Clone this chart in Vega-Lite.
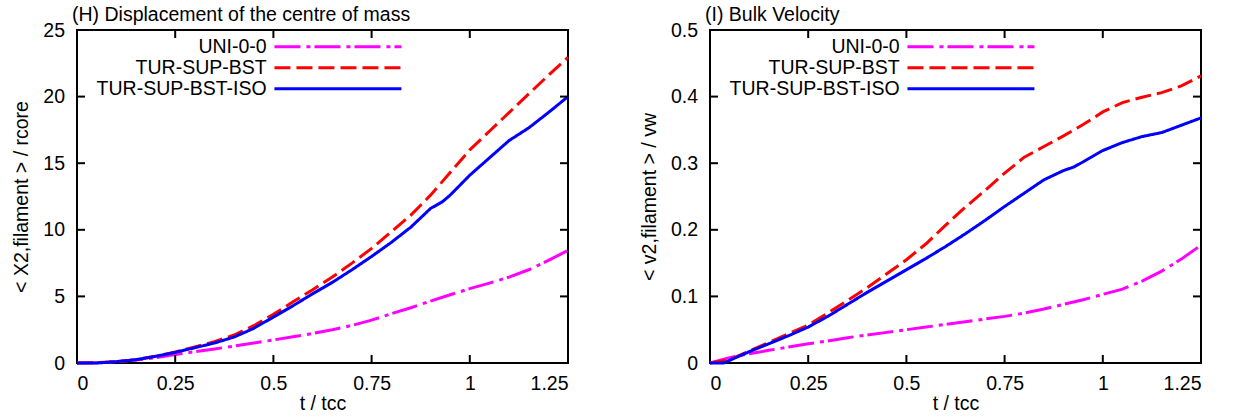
{
  "$schema": "https://vega.github.io/schema/vega-lite/v6.json",
  "background": "white",
  "padding": {"left": 10, "top": 3, "right": 10, "bottom": 0},
  "config": {
    "font": "Liberation Sans",
    "view": {"stroke": "black", "strokeWidth": 2},
    "axis": {"domain": false, "ticks": false, "grid": false, "labelFontSize": 19.5, "labelColor": "black", "titleFontSize": 19.5, "titleFontWeight": "normal", "titleColor": "black", "labelFont": "Liberation Sans", "titleFont": "Liberation Sans"},
    "axisX": {"labelPadding": 11, "titlePadding": 2},
    "axisY": {"labelPadding": 12.5, "titlePadding": 11},
    "title": {"fontSize": 19.5, "fontWeight": "normal", "anchor": "start", "frame": "group", "font": "Liberation Sans", "offset": -5, "dx": -5, "color": "black"},
    "legend": {"orient": "none", "legendX": 251.2, "legendY": 7, "symbolType": "M-12,0H12", "symbolSize": 112, "symbolStrokeWidth": 3, "labelFontSize": 19.5, "labelFont": "Liberation Sans", "labelColor": "black", "labelAlign": "right", "labelOffset": -81, "labelLimit": 400, "title": null, "rowPadding": 0}
  },
  "datasets": {
    "xt": [{"t": 0.25}, {"t": 0.5}, {"t": 0.75}, {"t": 1}],
    "yth": [{"v": 5}, {"v": 10}, {"v": 15}, {"v": 20}],
    "yti": [{"v": 0.1}, {"v": 0.2}, {"v": 0.3}, {"v": 0.4}],
    "h": [
      {"t": 0, "v": 0, "s": "UNI-0-0"}, {"t": 0.05, "v": 0.02, "s": "UNI-0-0"}, {"t": 0.1, "v": 0.1, "s": "UNI-0-0"}, {"t": 0.15, "v": 0.22, "s": "UNI-0-0"}, {"t": 0.2, "v": 0.4, "s": "UNI-0-0"}, {"t": 0.25, "v": 0.63, "s": "UNI-0-0"}, {"t": 0.3, "v": 0.85, "s": "UNI-0-0"}, {"t": 0.35, "v": 1.05, "s": "UNI-0-0"}, {"t": 0.4, "v": 1.27, "s": "UNI-0-0"}, {"t": 0.45, "v": 1.5, "s": "UNI-0-0"}, {"t": 0.5, "v": 1.73, "s": "UNI-0-0"}, {"t": 0.55, "v": 1.97, "s": "UNI-0-0"}, {"t": 0.6, "v": 2.22, "s": "UNI-0-0"}, {"t": 0.65, "v": 2.5, "s": "UNI-0-0"}, {"t": 0.7, "v": 2.82, "s": "UNI-0-0"}, {"t": 0.75, "v": 3.22, "s": "UNI-0-0"}, {"t": 0.8, "v": 3.7, "s": "UNI-0-0"}, {"t": 0.85, "v": 4.15, "s": "UNI-0-0"}, {"t": 0.9, "v": 4.65, "s": "UNI-0-0"}, {"t": 0.95, "v": 5.12, "s": "UNI-0-0"}, {"t": 1.0, "v": 5.58, "s": "UNI-0-0"}, {"t": 1.05, "v": 6.0, "s": "UNI-0-0"}, {"t": 1.1, "v": 6.45, "s": "UNI-0-0"}, {"t": 1.15, "v": 7.0, "s": "UNI-0-0"}, {"t": 1.2, "v": 7.7, "s": "UNI-0-0"}, {"t": 1.25, "v": 8.45, "s": "UNI-0-0"},
      {"t": 0, "v": 0, "s": "TUR-SUP-BST"}, {"t": 0.05, "v": 0.02, "s": "TUR-SUP-BST"}, {"t": 0.1, "v": 0.1, "s": "TUR-SUP-BST"}, {"t": 0.15, "v": 0.25, "s": "TUR-SUP-BST"}, {"t": 0.2, "v": 0.5, "s": "TUR-SUP-BST"}, {"t": 0.25, "v": 0.83, "s": "TUR-SUP-BST"}, {"t": 0.3, "v": 1.2, "s": "TUR-SUP-BST"}, {"t": 0.35, "v": 1.6, "s": "TUR-SUP-BST"}, {"t": 0.4, "v": 2.1, "s": "TUR-SUP-BST"}, {"t": 0.45, "v": 2.8, "s": "TUR-SUP-BST"}, {"t": 0.5, "v": 3.65, "s": "TUR-SUP-BST"}, {"t": 0.55, "v": 4.6, "s": "TUR-SUP-BST"}, {"t": 0.6, "v": 5.5, "s": "TUR-SUP-BST"}, {"t": 0.65, "v": 6.45, "s": "TUR-SUP-BST"}, {"t": 0.7, "v": 7.5, "s": "TUR-SUP-BST"}, {"t": 0.75, "v": 8.6, "s": "TUR-SUP-BST"}, {"t": 0.8, "v": 9.85, "s": "TUR-SUP-BST"}, {"t": 0.85, "v": 11.1, "s": "TUR-SUP-BST"}, {"t": 0.9, "v": 12.6, "s": "TUR-SUP-BST"}, {"t": 0.95, "v": 14.3, "s": "TUR-SUP-BST"}, {"t": 1.0, "v": 16.0, "s": "TUR-SUP-BST"}, {"t": 1.05, "v": 17.4, "s": "TUR-SUP-BST"}, {"t": 1.1, "v": 18.8, "s": "TUR-SUP-BST"}, {"t": 1.15, "v": 20.2, "s": "TUR-SUP-BST"}, {"t": 1.2, "v": 21.6, "s": "TUR-SUP-BST"}, {"t": 1.25, "v": 22.95, "s": "TUR-SUP-BST"},
      {"t": 0, "v": 0, "s": "TUR-SUP-BST-ISO"}, {"t": 0.05, "v": 0.0, "s": "TUR-SUP-BST-ISO"}, {"t": 0.1, "v": 0.1, "s": "TUR-SUP-BST-ISO"}, {"t": 0.15, "v": 0.25, "s": "TUR-SUP-BST-ISO"}, {"t": 0.2, "v": 0.5, "s": "TUR-SUP-BST-ISO"}, {"t": 0.25, "v": 0.8, "s": "TUR-SUP-BST-ISO"}, {"t": 0.3, "v": 1.15, "s": "TUR-SUP-BST-ISO"}, {"t": 0.35, "v": 1.5, "s": "TUR-SUP-BST-ISO"}, {"t": 0.4, "v": 1.95, "s": "TUR-SUP-BST-ISO"}, {"t": 0.45, "v": 2.6, "s": "TUR-SUP-BST-ISO"}, {"t": 0.5, "v": 3.45, "s": "TUR-SUP-BST-ISO"}, {"t": 0.55, "v": 4.3, "s": "TUR-SUP-BST-ISO"}, {"t": 0.6, "v": 5.2, "s": "TUR-SUP-BST-ISO"}, {"t": 0.65, "v": 6.05, "s": "TUR-SUP-BST-ISO"}, {"t": 0.7, "v": 7.0, "s": "TUR-SUP-BST-ISO"}, {"t": 0.75, "v": 8.0, "s": "TUR-SUP-BST-ISO"}, {"t": 0.8, "v": 9.05, "s": "TUR-SUP-BST-ISO"}, {"t": 0.85, "v": 10.2, "s": "TUR-SUP-BST-ISO"}, {"t": 0.9, "v": 11.6, "s": "TUR-SUP-BST-ISO"}, {"t": 0.93, "v": 12.1, "s": "TUR-SUP-BST-ISO"}, {"t": 0.95, "v": 12.6, "s": "TUR-SUP-BST-ISO"}, {"t": 1.0, "v": 14.1, "s": "TUR-SUP-BST-ISO"}, {"t": 1.05, "v": 15.4, "s": "TUR-SUP-BST-ISO"}, {"t": 1.1, "v": 16.7, "s": "TUR-SUP-BST-ISO"}, {"t": 1.15, "v": 17.65, "s": "TUR-SUP-BST-ISO"}, {"t": 1.2, "v": 18.8, "s": "TUR-SUP-BST-ISO"}, {"t": 1.25, "v": 20.0, "s": "TUR-SUP-BST-ISO"}
    ],
    "i": [
      {"t": 0, "v": 0, "s": "UNI-0-0"}, {"t": 0.05, "v": 0.008, "s": "UNI-0-0"}, {"t": 0.1, "v": 0.014, "s": "UNI-0-0"}, {"t": 0.15, "v": 0.019, "s": "UNI-0-0"}, {"t": 0.2, "v": 0.024, "s": "UNI-0-0"}, {"t": 0.25, "v": 0.029, "s": "UNI-0-0"}, {"t": 0.3, "v": 0.033, "s": "UNI-0-0"}, {"t": 0.35, "v": 0.038, "s": "UNI-0-0"}, {"t": 0.4, "v": 0.042, "s": "UNI-0-0"}, {"t": 0.45, "v": 0.046, "s": "UNI-0-0"}, {"t": 0.5, "v": 0.05, "s": "UNI-0-0"}, {"t": 0.55, "v": 0.054, "s": "UNI-0-0"}, {"t": 0.6, "v": 0.058, "s": "UNI-0-0"}, {"t": 0.65, "v": 0.062, "s": "UNI-0-0"}, {"t": 0.7, "v": 0.066, "s": "UNI-0-0"}, {"t": 0.75, "v": 0.07, "s": "UNI-0-0"}, {"t": 0.8, "v": 0.075, "s": "UNI-0-0"}, {"t": 0.85, "v": 0.081, "s": "UNI-0-0"}, {"t": 0.9, "v": 0.088, "s": "UNI-0-0"}, {"t": 0.95, "v": 0.095, "s": "UNI-0-0"}, {"t": 1.0, "v": 0.103, "s": "UNI-0-0"}, {"t": 1.05, "v": 0.111, "s": "UNI-0-0"}, {"t": 1.1, "v": 0.123, "s": "UNI-0-0"}, {"t": 1.15, "v": 0.138, "s": "UNI-0-0"}, {"t": 1.2, "v": 0.156, "s": "UNI-0-0"}, {"t": 1.25, "v": 0.177, "s": "UNI-0-0"},
      {"t": 0, "v": 0, "s": "TUR-SUP-BST"}, {"t": 0.05, "v": 0.005, "s": "TUR-SUP-BST"}, {"t": 0.1, "v": 0.018, "s": "TUR-SUP-BST"}, {"t": 0.15, "v": 0.031, "s": "TUR-SUP-BST"}, {"t": 0.2, "v": 0.044, "s": "TUR-SUP-BST"}, {"t": 0.25, "v": 0.057, "s": "TUR-SUP-BST"}, {"t": 0.3, "v": 0.075, "s": "TUR-SUP-BST"}, {"t": 0.35, "v": 0.094, "s": "TUR-SUP-BST"}, {"t": 0.4, "v": 0.113, "s": "TUR-SUP-BST"}, {"t": 0.45, "v": 0.134, "s": "TUR-SUP-BST"}, {"t": 0.5, "v": 0.155, "s": "TUR-SUP-BST"}, {"t": 0.55, "v": 0.179, "s": "TUR-SUP-BST"}, {"t": 0.6, "v": 0.207, "s": "TUR-SUP-BST"}, {"t": 0.65, "v": 0.234, "s": "TUR-SUP-BST"}, {"t": 0.7, "v": 0.259, "s": "TUR-SUP-BST"}, {"t": 0.75, "v": 0.285, "s": "TUR-SUP-BST"}, {"t": 0.8, "v": 0.309, "s": "TUR-SUP-BST"}, {"t": 0.85, "v": 0.325, "s": "TUR-SUP-BST"}, {"t": 0.9, "v": 0.341, "s": "TUR-SUP-BST"}, {"t": 0.95, "v": 0.358, "s": "TUR-SUP-BST"}, {"t": 1.0, "v": 0.377, "s": "TUR-SUP-BST"}, {"t": 1.05, "v": 0.391, "s": "TUR-SUP-BST"}, {"t": 1.1, "v": 0.399, "s": "TUR-SUP-BST"}, {"t": 1.15, "v": 0.406, "s": "TUR-SUP-BST"}, {"t": 1.2, "v": 0.416, "s": "TUR-SUP-BST"}, {"t": 1.25, "v": 0.431, "s": "TUR-SUP-BST"},
      {"t": 0, "v": 0, "s": "TUR-SUP-BST-ISO"}, {"t": 0.035, "v": 0, "s": "TUR-SUP-BST-ISO"}, {"t": 0.05, "v": 0.004, "s": "TUR-SUP-BST-ISO"}, {"t": 0.1, "v": 0.017, "s": "TUR-SUP-BST-ISO"}, {"t": 0.15, "v": 0.029, "s": "TUR-SUP-BST-ISO"}, {"t": 0.2, "v": 0.041, "s": "TUR-SUP-BST-ISO"}, {"t": 0.25, "v": 0.054, "s": "TUR-SUP-BST-ISO"}, {"t": 0.3, "v": 0.07, "s": "TUR-SUP-BST-ISO"}, {"t": 0.35, "v": 0.088, "s": "TUR-SUP-BST-ISO"}, {"t": 0.4, "v": 0.106, "s": "TUR-SUP-BST-ISO"}, {"t": 0.45, "v": 0.123, "s": "TUR-SUP-BST-ISO"}, {"t": 0.5, "v": 0.14, "s": "TUR-SUP-BST-ISO"}, {"t": 0.55, "v": 0.157, "s": "TUR-SUP-BST-ISO"}, {"t": 0.6, "v": 0.175, "s": "TUR-SUP-BST-ISO"}, {"t": 0.65, "v": 0.194, "s": "TUR-SUP-BST-ISO"}, {"t": 0.7, "v": 0.214, "s": "TUR-SUP-BST-ISO"}, {"t": 0.75, "v": 0.235, "s": "TUR-SUP-BST-ISO"}, {"t": 0.8, "v": 0.255, "s": "TUR-SUP-BST-ISO"}, {"t": 0.85, "v": 0.275, "s": "TUR-SUP-BST-ISO"}, {"t": 0.9, "v": 0.289, "s": "TUR-SUP-BST-ISO"}, {"t": 0.925, "v": 0.294, "s": "TUR-SUP-BST-ISO"}, {"t": 0.95, "v": 0.302, "s": "TUR-SUP-BST-ISO"}, {"t": 1.0, "v": 0.319, "s": "TUR-SUP-BST-ISO"}, {"t": 1.05, "v": 0.331, "s": "TUR-SUP-BST-ISO"}, {"t": 1.1, "v": 0.34, "s": "TUR-SUP-BST-ISO"}, {"t": 1.15, "v": 0.346, "s": "TUR-SUP-BST-ISO"}, {"t": 1.2, "v": 0.357, "s": "TUR-SUP-BST-ISO"}, {"t": 1.25, "v": 0.368, "s": "TUR-SUP-BST-ISO"}
    ]
  },
  "spacing": 63,
  "resolve": {"scale": {"color": "independent", "strokeDash": "independent"}},
  "hconcat": [
    {
      "width": 491, "height": 333,
      "title": "(H) Displacement of the centre of mass",
      "layer": [
        {
          "data": {"name": "h"},
          "mark": {"type": "line", "strokeWidth": 3},
          "encoding": {
            "x": {"field": "t", "type": "quantitative", "scale": {"domain": [0, 1.25], "nice": false}, "axis": {"values": [0, 0.25, 0.5, 0.75, 1, 1.25], "format": ".3~g", "title": "t / tcc"}},
            "y": {"field": "v", "type": "quantitative", "scale": {"domain": [0, 25], "nice": false}, "axis": {"values": [0, 5, 10, 15, 20, 25], "format": ".3~g", "title": "< X2,filament > / rcore"}},
            "color": {"field": "s", "type": "nominal", "scale": {"domain": ["UNI-0-0", "TUR-SUP-BST", "TUR-SUP-BST-ISO"], "range": ["#ff00ff", "#ff0000", "#0000ff"]}},
            "strokeDash": {"field": "s", "type": "nominal", "scale": {"domain": ["UNI-0-0", "TUR-SUP-BST", "TUR-SUP-BST-ISO"], "range": [[26, 6, 4, 4], [16, 6], [1, 0]]}}
          }
        },
        {
          "data": {"name": "xt"},
          "mark": {"type": "tick", "orient": "vertical", "size": 8, "thickness": 2, "color": "black", "opacity": 1, "yOffset": -4},
          "encoding": {
            "x": {"field": "t", "type": "quantitative", "axis": null},
            "y": {"datum": 0, "type": "quantitative", "axis": null}
          }
        },
        {
          "data": {"name": "xt"},
          "mark": {"type": "tick", "orient": "vertical", "size": 8, "thickness": 2, "color": "black", "opacity": 1, "yOffset": 4},
          "encoding": {
            "x": {"field": "t", "type": "quantitative", "axis": null},
            "y": {"datum": 25, "type": "quantitative", "axis": null}
          }
        },
        {
          "data": {"name": "yth"},
          "mark": {"type": "tick", "orient": "horizontal", "size": 8, "thickness": 2, "color": "black", "opacity": 1, "xOffset": 4},
          "encoding": {
            "y": {"field": "v", "type": "quantitative", "axis": null},
            "x": {"datum": 0, "type": "quantitative", "axis": null}
          }
        },
        {
          "data": {"name": "yth"},
          "mark": {"type": "tick", "orient": "horizontal", "size": 8, "thickness": 2, "color": "black", "opacity": 1, "xOffset": -4},
          "encoding": {
            "y": {"field": "v", "type": "quantitative", "axis": null},
            "x": {"datum": 1.25, "type": "quantitative", "axis": null}
          }
        }
      ],
      "resolve": {"axis": {"x": "independent", "y": "independent"}}
    },
    {
      "width": 491, "height": 333,
      "title": "(I) Bulk Velocity",
      "layer": [
        {
          "data": {"name": "i"},
          "mark": {"type": "line", "strokeWidth": 3},
          "encoding": {
            "x": {"field": "t", "type": "quantitative", "scale": {"domain": [0, 1.25], "nice": false}, "axis": {"values": [0, 0.25, 0.5, 0.75, 1, 1.25], "format": ".3~g", "title": "t / tcc"}},
            "y": {"field": "v", "type": "quantitative", "scale": {"domain": [0, 0.5], "nice": false}, "axis": {"values": [0, 0.1, 0.2, 0.3, 0.4, 0.5], "format": ".3~g", "title": "< v2,filament > / vw"}},
            "color": {"field": "s", "type": "nominal", "scale": {"domain": ["UNI-0-0", "TUR-SUP-BST", "TUR-SUP-BST-ISO"], "range": ["#ff00ff", "#ff0000", "#0000ff"]}},
            "strokeDash": {"field": "s", "type": "nominal", "scale": {"domain": ["UNI-0-0", "TUR-SUP-BST", "TUR-SUP-BST-ISO"], "range": [[26, 6, 4, 4], [16, 6], [1, 0]]}}
          }
        },
        {
          "data": {"name": "xt"},
          "mark": {"type": "tick", "orient": "vertical", "size": 8, "thickness": 2, "color": "black", "opacity": 1, "yOffset": -4},
          "encoding": {
            "x": {"field": "t", "type": "quantitative", "axis": null},
            "y": {"datum": 0, "type": "quantitative", "axis": null}
          }
        },
        {
          "data": {"name": "xt"},
          "mark": {"type": "tick", "orient": "vertical", "size": 8, "thickness": 2, "color": "black", "opacity": 1, "yOffset": 4},
          "encoding": {
            "x": {"field": "t", "type": "quantitative", "axis": null},
            "y": {"datum": 0.5, "type": "quantitative", "axis": null}
          }
        },
        {
          "data": {"name": "yti"},
          "mark": {"type": "tick", "orient": "horizontal", "size": 8, "thickness": 2, "color": "black", "opacity": 1, "xOffset": 4},
          "encoding": {
            "y": {"field": "v", "type": "quantitative", "axis": null},
            "x": {"datum": 0, "type": "quantitative", "axis": null}
          }
        },
        {
          "data": {"name": "yti"},
          "mark": {"type": "tick", "orient": "horizontal", "size": 8, "thickness": 2, "color": "black", "opacity": 1, "xOffset": -4},
          "encoding": {
            "y": {"field": "v", "type": "quantitative", "axis": null},
            "x": {"datum": 1.25, "type": "quantitative", "axis": null}
          }
        }
      ],
      "resolve": {"axis": {"x": "independent", "y": "independent"}}
    }
  ]
}
